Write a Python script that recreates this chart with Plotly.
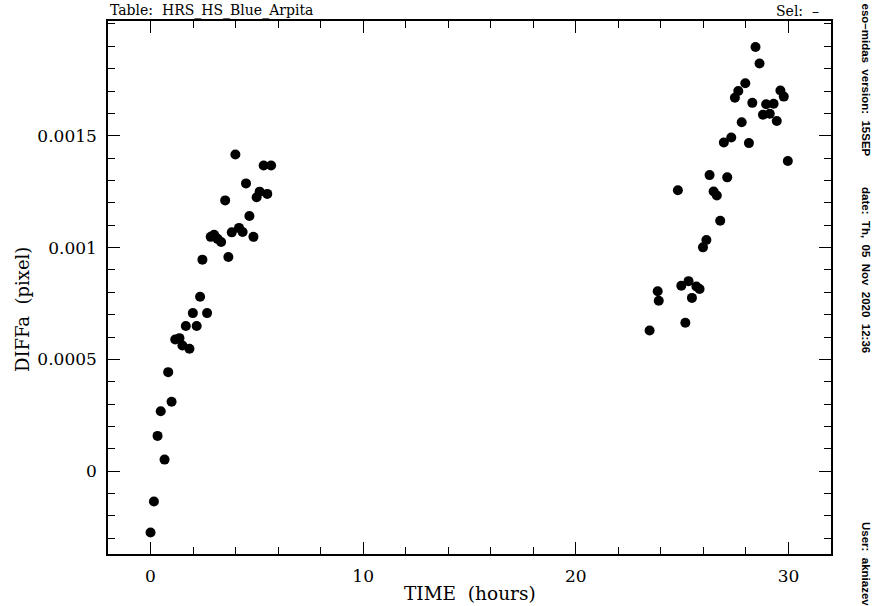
import plotly.graph_objects as go

# ---- data ----
time_a = [0.00, 0.16, 0.33, 0.48, 0.66, 0.83, 0.99, 1.16, 1.36, 1.50, 1.66, 1.83,
          1.99, 2.17, 2.33, 2.44, 2.66, 2.83, 2.99, 3.15, 3.32, 3.51, 3.66, 3.82,
          3.99, 4.16, 4.33, 4.49, 4.65, 4.84, 4.99, 5.13, 5.32, 5.49, 5.67]
diff_a = [-0.000274, -0.000135, 0.000158, 0.000268, 0.000052, 0.000443, 0.000311,
          0.000589, 0.000595, 0.000562, 0.000649, 0.000548, 0.000707, 0.000649,
          0.000780, 0.000946, 0.000707, 0.001048, 0.001057, 0.001039, 0.001025,
          0.001211, 0.000958, 0.001068, 0.001416, 0.001088, 0.001070, 0.001287,
          0.001141, 0.001048, 0.001225, 0.001250, 0.001367, 0.001240, 0.001367]

time_b = [23.47, 23.85, 23.90, 24.80, 24.96, 25.15, 25.30, 25.46, 25.67, 25.82,
          25.98, 26.14, 26.29, 26.48, 26.63, 26.79, 26.96, 27.12, 27.31, 27.48,
          27.64, 27.80, 27.97, 28.14, 28.30, 28.45, 28.64, 28.80, 28.95, 29.12,
          29.30, 29.45, 29.62, 29.78, 29.97]
diff_b = [0.000629, 0.000805, 0.000762, 0.001256, 0.000829, 0.000664, 0.000850,
          0.000775, 0.000826, 0.000815, 0.001001, 0.001034, 0.001324, 0.001251,
          0.001233, 0.001120, 0.001470, 0.001314, 0.001492, 0.001670, 0.001700,
          0.001560, 0.001735, 0.001467, 0.001647, 0.001897, 0.001823, 0.001594,
          0.001641, 0.001598, 0.001643, 0.001566, 0.001702, 0.001675, 0.001387]

x_range = [-2, 32]
y_range = [-0.00037, 0.002013]
x_ticks = [0, 10, 20, 30]
y_ticks = [0, 0.0005, 0.001, 0.0015]
y_ticklabels = ["0", "0.0005", "0.001", "0.0015"]

# ---- layout geometry (pixels) ----
W, H = 875, 606
L, R, T, B = 108, 831, 21, 554
pw, ph = R - L, B - T

def px(x):
    return (x - L) / pw

def py(y):
    return (B - y) / ph

SERIF = "DejaVu Serif"
NB = "\u00a0"

fig = go.Figure()
fig.add_trace(go.Scatter(
    x=time_a + time_b, y=diff_a + diff_b, mode="markers",
    marker=dict(color="black", size=10, line=dict(width=0)),
    showlegend=False, hoverinfo="x+y"))

axis_common = dict(
    showgrid=False, zeroline=False, showline=True, linecolor="black", linewidth=1.5,
    mirror="allticks", ticks="inside", ticklen=12, tickwidth=1.2, tickcolor="black",
    tickfont=dict(family=SERIF, size=17, color="black"),
)

fig.update_layout(
    width=W, height=H,
    margin=dict(l=L, r=W - R, t=T, b=H - B, pad=0),
    paper_bgcolor="white", plot_bgcolor="white",
    xaxis=dict(range=x_range, tickvals=x_ticks, ticklabelstandoff=6,
               minor=dict(dtick=2, ticks="inside", ticklen=7, tickwidth=1.2,
                          tickcolor="black", showgrid=False),
               **axis_common),
    yaxis=dict(range=y_range, tickvals=y_ticks, ticktext=y_ticklabels,
               ticklabelstandoff=6,
               minor=dict(dtick=0.0001, ticks="inside", ticklen=7, tickwidth=1.2,
                          tickcolor="black", showgrid=False),
               **axis_common),
)

ann = []
# axis titles
ann.append(dict(text=f"TIME{NB}{NB}(hours)", x=px(470), y=py(593), xref="paper", yref="paper",
                showarrow=False, xanchor="center", yanchor="middle",
                font=dict(family=SERIF, size=18.5, color="black")))
ann.append(dict(text=f"DIFFa{NB}{NB}(pixel)", x=px(22), y=py(310), xref="paper", yref="paper",
                showarrow=False, xanchor="center", yanchor="middle", textangle=-90,
                font=dict(family=SERIF, size=18, color="black")))
# header
ann.append(dict(text=f"Table:{NB}{NB}HRS_HS_Blue_Arpita", x=px(108), y=py(10.5), xref="paper",
                yref="paper", showarrow=False, xanchor="left", yanchor="middle",
                font=dict(family=SERIF, size=14, color="black")))
ann.append(dict(text=f"Sel:{NB}{NB}\u2013", x=px(821), y=py(10.5), xref="paper",
                yref="paper", showarrow=False, xanchor="right", yanchor="middle",
                font=dict(family=SERIF, size=14, color="black")))
# side labels
side = [("eso\u2013midas  version:  15SEP", 1),
        ("date:  Th,  05  Nov  2020  12:36", 185),
        ("User:  akniazev", 520)]
for txt, top in side:
    ann.append(dict(text="<b>" + txt.replace(" ", NB) + "</b>", x=px(866), y=py(top),
                    xref="paper", yref="paper", showarrow=False, textangle=90,
                    xanchor="center", yanchor="top",
                    font=dict(family="Liberation Sans", size=11.5, color="black")))
fig.update_layout(annotations=ann)

fig.write_html("out.html")
